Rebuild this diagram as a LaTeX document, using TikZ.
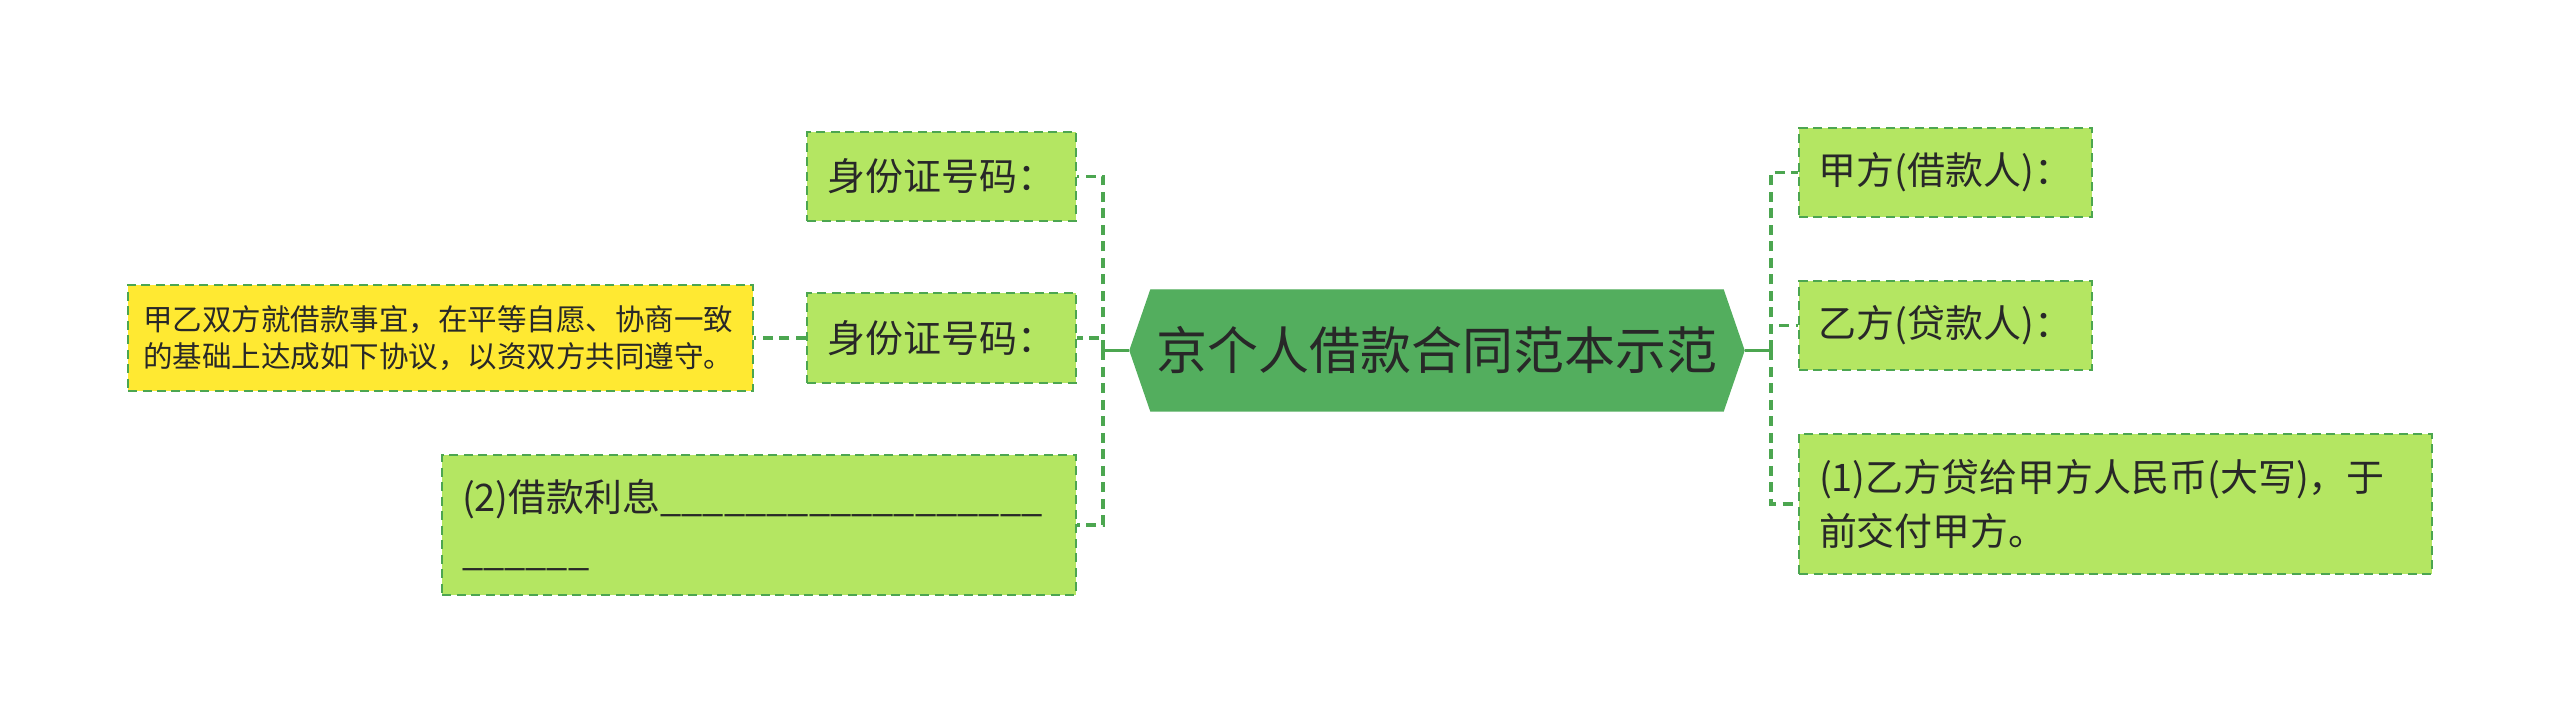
\documentclass[tikz,border=0pt]{standalone}
\usepackage{fontspec}
\setmainfont{Noto Sans CJK SC}
\usepackage{tikz}
\usetikzlibrary{positioning,shapes.symbols}
\definecolor{rootgreen}{RGB}{83,174,94}
\definecolor{leafgreen}{RGB}{180,230,98}
\definecolor{noteyellow}{RGB}{255,233,50}
\definecolor{linegreen}{RGB}{76,166,80}
\definecolor{inkgray}{RGB}{40,40,40}

\begin{document}
\begin{tikzpicture}[
  x=1cm, y=1cm,
  root/.style={signal, signal to=west and east, signal pointer angle=142, fill=rootgreen, draw=rootgreen, text=inkgray, minimum width=6.14cm, minimum height=1.21cm, inner sep=0pt, font=\fontsize{14.5pt}{17pt}\selectfont},
  leaf/.style={draw=linegreen, line width=0.6pt, dash pattern=on 0.09cm off 0.055cm, fill=leafgreen, text=inkgray, inner xsep=0.2cm, inner ysep=0pt, minimum height=0.89cm, align=left, font=\fontsize{10.8pt}{15.4pt}\selectfont},
  note/.style={leaf, fill=noteyellow, inner xsep=0.15cm, minimum height=1.06cm, font=\fontsize{8.4pt}{10.5pt}\selectfont},
  stem/.style={draw=linegreen, line width=0.9pt},
  link/.style={stem, dash pattern=on 0.1cm off 0.065cm}]
  \useasboundingbox (0,0) rectangle (25.6,7.23);
  \node[root] (root) at (14.37,3.725) {京个人借款合同范本示范};
  \coordinate (hubL) at (11.03,3.725);
  \coordinate (hubR) at (17.71,3.725);
  % left side
  \node[leaf, minimum width=2.69cm] (idA) at (9.415,5.465) {身份证号码：};
  \node[leaf, minimum width=2.69cm, minimum height=0.90cm] (idB) at (9.415,3.85) {身份证号码：};
  \node[leaf, text width=5.94cm, minimum height=1.40cm] (rate) at (7.59,1.98) {(2)借款利息\_\_\_\_\_\_\_\_\_\_\_\_\_\_\_\_\_\_\\\_\_\_\_\_\_};
  \node[note, text width=5.95cm] (terms) at (4.405,3.85) {甲乙双方就借款事宜，在平等自愿、协商一致\\的基础上达成如下协议，以资双方共同遵守。};
  % right side
  \node[leaf, minimum width=2.93cm] (borrower) at (19.455,5.505) {甲方(借款人)：};
  \node[leaf, minimum width=2.93cm] (lender) at (19.455,3.975) {乙方(贷款人)：};
  \node[leaf, text width=5.93cm, minimum height=1.40cm] (loan) at (21.155,2.19) {(1)乙方贷给甲方人民币(大写)，于\\前交付甲方。};
  \draw[stem] (root.west) -- (hubL);
  \draw[stem] (root.east) -- (hubR);
  \draw[link] (hubL) |- (idA.east);
  \draw[link] (hubL) |- (idB.east);
  \draw[link] (hubL) |- (rate.east);
  \draw[link] (idB.west) -- (terms.east);
  \draw[link] (hubR) |- (borrower.west);
  \draw[link] (hubR) |- (lender.west);
  \draw[link] (hubR) |- (loan.west);
\end{tikzpicture}
\end{document}
